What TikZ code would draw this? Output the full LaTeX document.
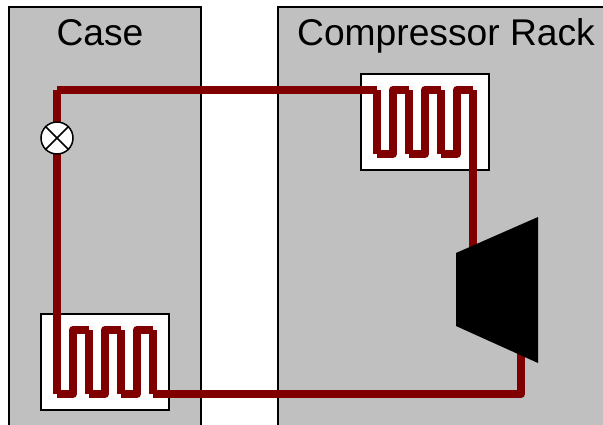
\documentclass[tikz,border=0pt]{standalone}
\usepackage{fontspec}
\setmainfont{Liberation Sans}
\definecolor{panelgrey}{RGB}{192,192,192}
\definecolor{pipered}{RGB}{128,0,0}
\tikzset{
  panel/.style={draw=black,line width=1.5pt,fill=panelgrey},
  panellabel/.style={font=\fontsize{37.2}{40}\selectfont,text=black,inner sep=0pt,anchor=base},
  coilbox/.style={draw=black,line width=2pt,fill=white},
  pipe/.style={draw=pipered,line width=8.4pt,line cap=butt,line join=round},
  valvering/.style={draw=black,line width=1.5pt,fill=white,circle,minimum size=32pt,inner sep=0pt},
  valvecross/.style={draw=black,line width=1.5pt},
  compressor/.style={fill=black,draw=none},
  pics/coil/.style={code={
    \draw[pipe] (0,0) -- (16,0) -- (16,-64) -- (32,-64);
    \draw[pipe] (32,-64) -- (32,0);
    \draw[pipe] (32,0) -- (48,0) -- (48,-64) -- (64,-64);
    \draw[pipe] (64,-64) -- (64,0);
    \draw[pipe] (64,0) -- (80,0) -- (80,-64) -- (96,-64);
  }}
}
\begin{document}
\begin{tikzpicture}[x=1pt,y=-1pt]
\useasboundingbox (0,0) rectangle (603,424);
\clip (0,0) rectangle (603,424);
\fill[white] (0,0) rectangle (603,424);
\path[panel] (9,7) rectangle (201,440);
\path[panel] (278,7) rectangle (620,440);
\node[panellabel] (caselabel) at (100,45) {Case};
\node[panellabel] (racklabel) at (446,45) {Compressor Rack};
% boxes
\node[coilbox,minimum width=128pt,minimum height=96pt,inner sep=0pt] (cond) at (425,122) {};
\node[coilbox,minimum width=128pt,minimum height=96pt,inner sep=0pt] (evap) at (105,362) {};
% named points on the pipe
\coordinate (cornerTL) at (57,90);
\coordinate (condIn) at (377,90);
\coordinate (evapBot) at (57,394);
\coordinate (evapOut) at (153,394);
\coordinate (turn) at (521,394);
\coordinate (compOut) at (521,350);
\coordinate (condOutTop) at (473,90);
\coordinate (compIn) at (473,255);
% pipes
\draw[pipe] (cornerTL) -- (condIn);
\draw[pipe] (condIn) -- (377,154);
\pic at (377,154) {coil};
\draw[pipe] (condOutTop) -- (compIn);
\draw[pipe] (cornerTL) -- (evapBot);
\pic at (57,394) {coil};
\draw[pipe] (153,330) -- (evapOut);
\draw[pipe] (evapOut) -- (turn) -- (compOut);
% valve
\node[valvering] (valve) at (57,138) {};
\draw[valvecross] (valve.north west) -- (valve.south east);
\draw[valvecross] (valve.north east) -- (valve.south west);
% compressor
\fill[compressor] (456,253) -- (538,217) -- (538,363) -- (456,326) -- cycle;
\end{tikzpicture}
\end{document}
